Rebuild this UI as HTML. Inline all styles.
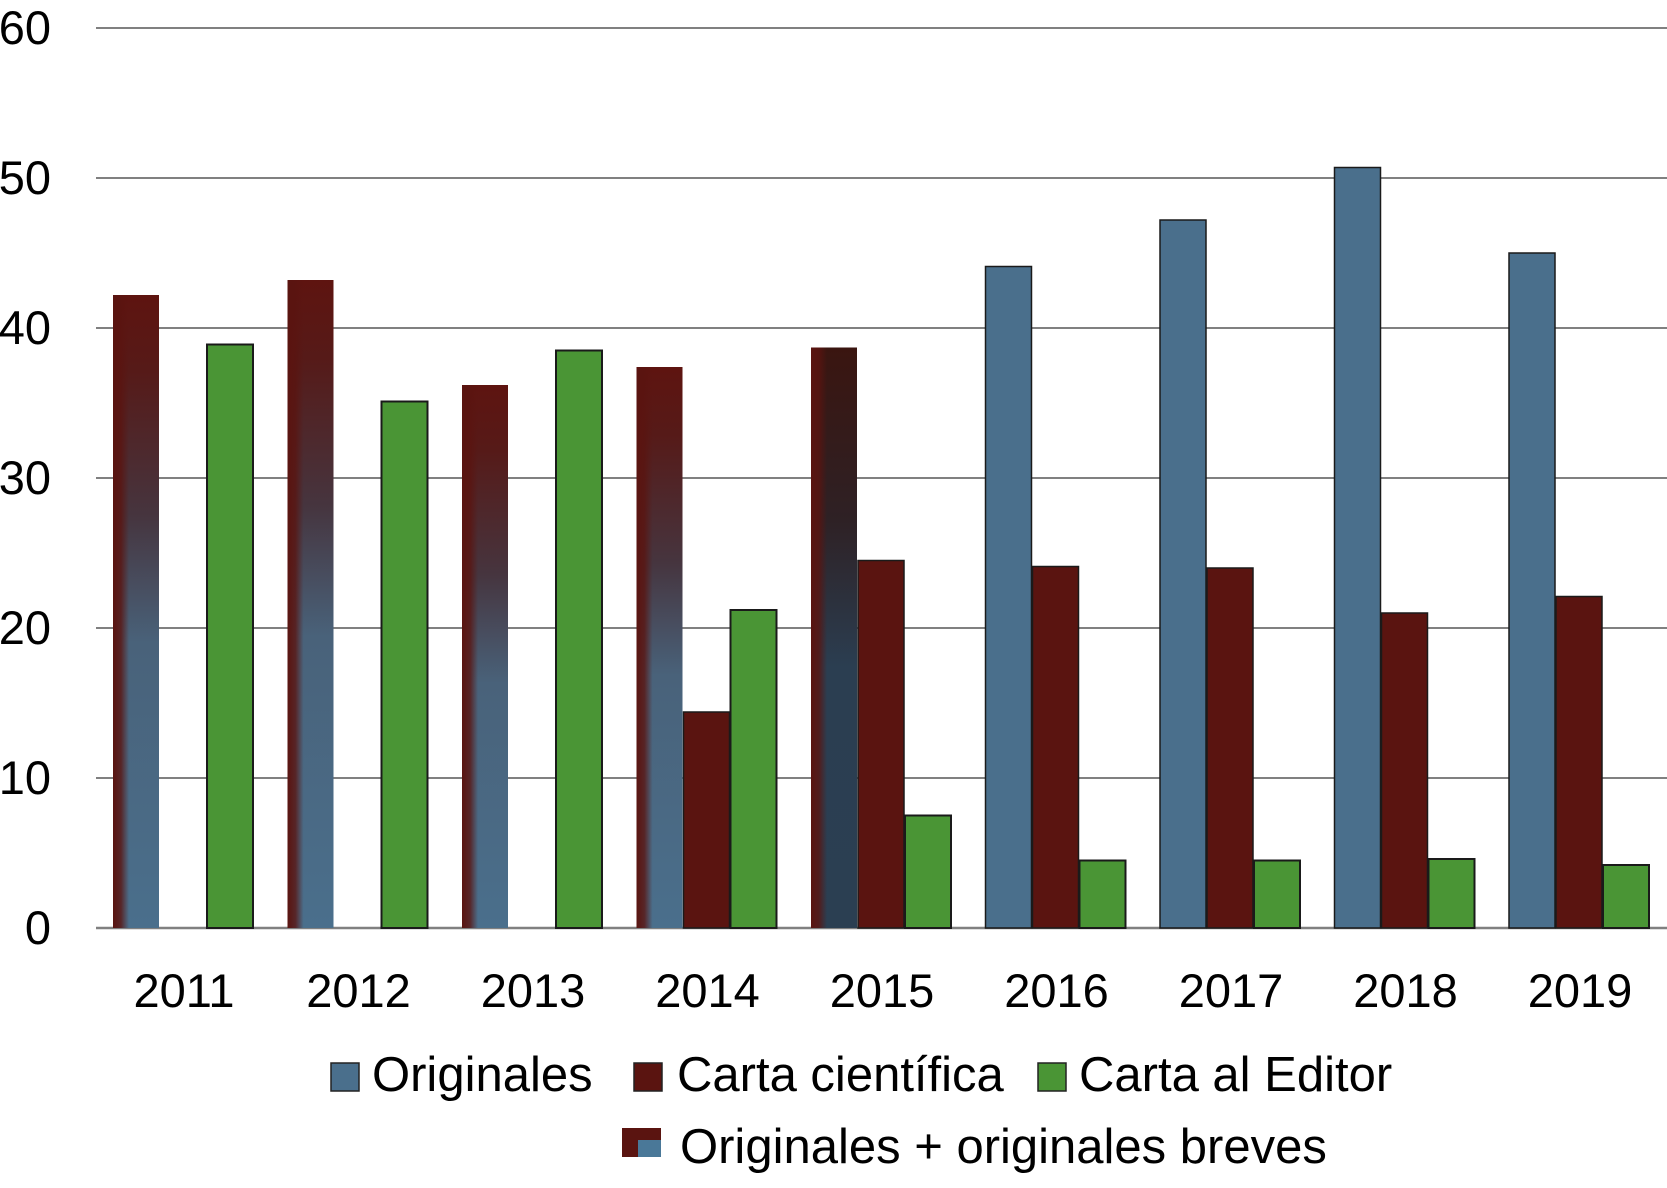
<!DOCTYPE html>
<html><head><meta charset="utf-8"><style>
html,body{margin:0;padding:0;background:#fff;width:1667px;height:1188px;overflow:hidden}
text{font-family:"Liberation Sans",sans-serif;fill:#000}
</style></head><body>
<svg id="chart" width="1667" height="1188" xmlns="http://www.w3.org/2000/svg">
<defs>
<linearGradient id="gMix" x1="0" y1="0" x2="0" y2="1">
<stop offset="0" stop-color="#5e1410"/><stop offset="0.12" stop-color="#561a18"/><stop offset="0.35" stop-color="#46353f"/><stop offset="0.55" stop-color="#49627a"/><stop offset="1" stop-color="#4a6f8c"/>
</linearGradient>
<linearGradient id="gMixDark" x1="0" y1="0" x2="0" y2="1">
<stop offset="0" stop-color="#3a1510"/><stop offset="0.3" stop-color="#2e2125"/><stop offset="0.55" stop-color="#2b3e51"/><stop offset="1" stop-color="#2b3f52"/>
</linearGradient>
<linearGradient id="gEdge" x1="0" y1="0" x2="1" y2="0">
<stop offset="0" stop-color="#5a1410" stop-opacity="1"/><stop offset="0.5" stop-color="#5a1410" stop-opacity="0.8"/><stop offset="1" stop-color="#5a1410" stop-opacity="0"/>
</linearGradient>
</defs>
<g id="grid"></g><g id="bars"></g><g id="labels"></g>
<g id="legend">
<rect x="331" y="1063" width="28" height="28" fill="#4a6f8c" stroke="#222" stroke-width="1.5"/>
<text x="372" y="1091" font-size="49">Originales</text>
<rect x="634" y="1063" width="28" height="28" fill="#5a1410" stroke="#222" stroke-width="1.5"/>
<text x="677" y="1091" font-size="49">Carta científica</text>
<rect x="1038" y="1063" width="28" height="28" fill="#4a9535" stroke="#222" stroke-width="1.5"/>
<text x="1079" y="1091" font-size="49">Carta al Editor</text>
<rect x="622" y="1128" width="39" height="29" fill="#5a1410"/>
<rect x="638" y="1140" width="23" height="17" fill="#4a7898"/>
<text x="680" y="1163" font-size="49">Originales + originales breves</text>
</g>
</svg>
<script>
const years=["2011","2012","2013","2014","2015","2016","2017","2018","2019"];
const mixed=[42.2,43.2,36.2,37.4,38.7,null,null,null,null];
const originales=[null,null,null,null,null,44.1,47.2,50.7,45.0];
const cartaCient=[null,null,null,14.4,24.5,24.1,24.0,21.0,22.1];
const cartaEditor=[38.9,35.1,38.5,21.2,7.5,4.5,4.5,4.6,4.2];
const yTicks=[0,10,20,30,40,50,60];
const NS="http://www.w3.org/2000/svg";
const y=v=>928-v*15;
const gx=i=>113+i*174.5;
const BW=46,SL=47;
function el(t,a,p){const e=document.createElementNS(NS,t);for(const k in a)e.setAttribute(k,a[k]);document.getElementById(p).appendChild(e);return e;}
yTicks.forEach(t=>{
 const l=el('line',{x1:96,x2:1667,y1:y(t),y2:y(t),stroke:'#808080','stroke-width':t===0?2.5:2},'grid');
 
 
 const tx=el('text',{x:51,y:y(t)+16,'font-size':47,'text-anchor':'end'},'labels');tx.textContent=t;
 
 
});
years.forEach((yr,i)=>{
 const x0=gx(i);
 const tx=el('text',{x:x0+71,y:1007,'font-size':47,'text-anchor':'middle'},'labels');tx.textContent=yr;
 
 
 if(mixed[i]!=null){
  const b=el('rect',{x:x0,y:y(mixed[i]),width:BW,height:mixed[i]*15,fill:i===4?'url(#gMixDark)':'url(#gMix)'},'bars');
  
  
  const e=el('rect',{x:x0,y:y(mixed[i]),width:16,height:mixed[i]*15,fill:'url(#gEdge)'},'bars');
  
  
 }
 if(originales[i]!=null){
  const b=el('rect',{x:x0,y:y(originales[i]),width:BW,height:originales[i]*15,fill:'#4a6f8c',stroke:'#1a1a1a','stroke-width':1.5},'bars');
  
  
 }
 if(cartaCient[i]!=null){
  const b=el('rect',{x:x0+SL,y:y(cartaCient[i]),width:BW,height:cartaCient[i]*15,fill:'#5a1410',stroke:'#1a1a1a','stroke-width':1.5},'bars');
  
  
 }
 const g=el('rect',{x:x0+2*SL,y:y(cartaEditor[i]),width:BW,height:cartaEditor[i]*15,fill:'#4a9535',stroke:'#1a1a1a','stroke-width':2},'bars');
 
 
});
</script>
</body></html>
